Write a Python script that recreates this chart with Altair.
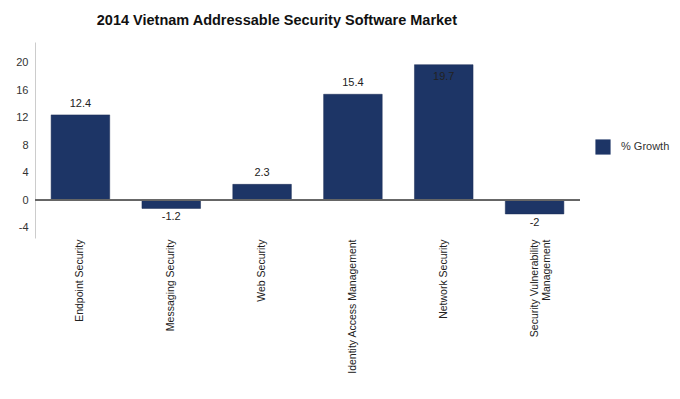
import altair as alt
import pandas as pd

categories = ["Endpoint Security", "Messaging Security", "Web Security",
              "Identity Access Management", "Network Security",
              "Security Vulnerability Management"]
growth = [12.4, -1.2, 2.3, 15.4, 19.7, -2]
series_name = "% Growth"
y_ticks = [-4, 0, 4, 8, 12, 16, 20]

df = pd.DataFrame({"category": categories, "value": growth, "series": series_name})

FONT = "Liberation Sans"
NAVY = "#1d3566"

x_enc = alt.X("category:N", sort=categories, title=None,
              scale=alt.Scale(paddingInner=0.355, paddingOuter=0.1775),
              axis=alt.Axis(labelAngle=-90, labelAlign="right", labelBaseline="middle",
                            labelFontSize=10.5, labelColor="#222", labelFont=FONT,
                            domain=False, ticks=False, labelPadding=1, labelLimit=200,
                            labelExpr="datum.label == 'Security Vulnerability Management' ? ['Security Vulnerability', 'Management'] : datum.label"))
y_enc = alt.Y("value:Q", title=None,
              scale=alt.Scale(domain=[-5.5, 23], nice=False, zero=False),
              axis=alt.Axis(values=y_ticks, tickCount=20, grid=False, ticks=False, domainColor="#cccccc",
                            labelOverlap=False,
                            labelExpr="replace(datum.label, '\u2212', '-')",
                            labelFontSize=11, labelColor="#333", labelFont=FONT, labelPadding=7))

base = alt.Chart(df)

bars = base.mark_bar(stroke="#1a2d55", strokeWidth=0.5).encode(
    x=x_enc, y=y_enc, y2=alt.datum(0),
    color=alt.Color("series:N", scale=alt.Scale(range=[NAVY]),
                    legend=alt.Legend(title=None, orient="none", legendX=560, legendY=97,
                                      symbolType="square", symbolSize=230, symbolOpacity=1,
                                      symbolStrokeWidth=0, labelFontSize=11, labelFont=FONT,
                                      labelColor="#333", labelOffset=10)),
)

zero = base.mark_rule(color="#666666", strokeWidth=1.2).encode(
    y=alt.datum(0)
)

txt_kw = dict(fontSize=11, font=FONT, color="#222", baseline="middle")
lab = base.transform_calculate(lbl="'' + datum.value")
pos = lab.transform_filter("datum.value >= 0 && datum.value < 18").mark_text(dy=-11, **txt_kw).encode(
    x=x_enc, y=y_enc, text="lbl:N")
big = lab.transform_filter("datum.value >= 18").mark_text(dy=12, **txt_kw).encode(
    x=x_enc, y=y_enc, text="lbl:N")
neg = lab.transform_filter("datum.value < 0").mark_text(dy=9, **txt_kw).encode(
    x=x_enc, y=y_enc, text="lbl:N")

chart = alt.layer(bars, zero, pos, big, neg).properties(
    width=545, height=196,
    background="white",
    title=alt.TitleParams("2014 Vietnam Addressable Security Software Market",
                          font=FONT, fontSize=14.5, fontWeight="bold", color="#111",
                          anchor="start", dx=81, offset=14),
    autosize="none",
    padding={"left": 27, "top": 34, "right": 92, "bottom": 153},
).configure_view(strokeWidth=0, stroke=None)

chart.save("out.html", embed_options={"renderer": "svg", "actions": False})
